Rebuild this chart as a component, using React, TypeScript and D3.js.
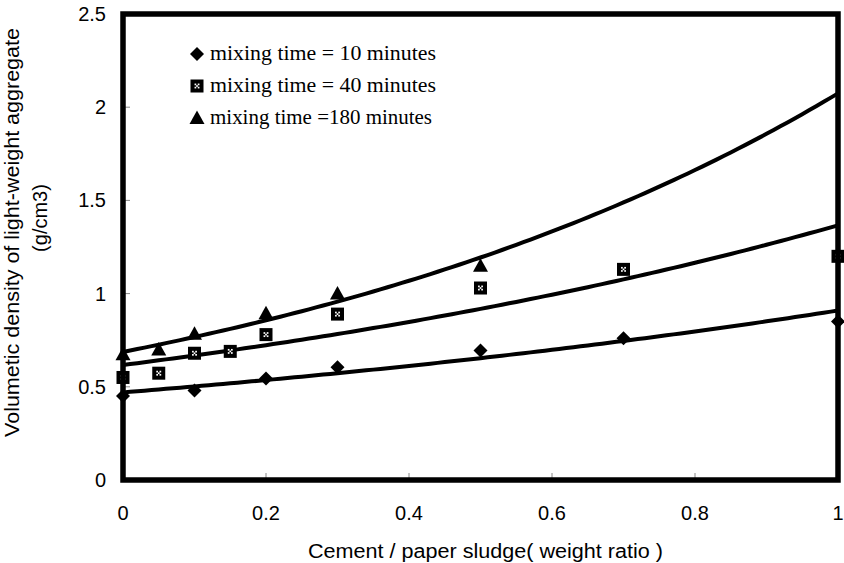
import React from "react";
import * as d3 from "d3";

const xTicks = [0, 0.2, 0.4, 0.6, 0.8, 1];
const yTicks = [0, 0.5, 1, 1.5, 2, 2.5];

const x10 = [0, 0.1, 0.2, 0.3, 0.5, 0.7, 1];
const y10 = [0.45, 0.48, 0.545, 0.605, 0.695, 0.76, 0.85];
const x40 = [0, 0.05, 0.1, 0.15, 0.2, 0.3, 0.5, 0.7, 1];
const y40 = [0.55, 0.573, 0.68, 0.69, 0.78, 0.89, 1.03, 1.13, 1.2];
const x180 = [0, 0.05, 0.1, 0.2, 0.3, 0.5];
const y180 = [0.675, 0.7, 0.785, 0.895, 1.0, 1.15];

// exponential trendline coefficients y = a * exp(b x)
const fitA = [0.47, 0.617, 0.687];
const fitB = [0.66, 0.795, 1.105];

const legendLabels = [
  "mixing time = 10 minutes",
  "mixing time = 40 minutes",
  "mixing time =180 minutes",
];

const W = 844, H = 563;
const L = 123, R = 838, T = 14, B = 480;

const xs = d3.scaleLinear().domain([0, 1]).range([L, R]);
const ys = d3.scaleLinear().domain([0, 2.5]).range([B, T]);

function Diamond({ cx, cy }: { cx: number; cy: number }) {
  const s = 7;
  return <path d={`M${cx},${cy - s}L${cx + s},${cy}L${cx},${cy + s}L${cx - s},${cy}Z`} fill="#000" />;
}
function Square({ cx, cy }: { cx: number; cy: number }) {
  const s = 6.5;
  const dots = [[-1.6, -1.6], [1.6, -1.6], [-1.6, 1.6], [1.6, 1.6], [0, 0]];
  return (
    <g>
      <rect x={cx - s} y={cy - s} width={2 * s} height={2 * s} fill="#000" />
      {dots.map((d, i) => (
        <rect key={i} x={cx + d[0] - 0.85} y={cy + d[1] - 0.85} width={1.7} height={1.7} fill="#fff" />
      ))}
    </g>
  );
}
function Tri({ cx, cy }: { cx: number; cy: number }) {
  const s = 7.5;
  return <path d={`M${cx},${cy - s}L${cx + s},${cy + s * 0.8}L${cx - s},${cy + s * 0.8}Z`} fill="#000" />;
}

export default function App() {
  const samples = d3.range(0, 1.0001, 0.01);
  const line = d3
    .line<number[]>()
    .x((d) => xs(d[0]))
    .y((d) => ys(d[1]));
  const curves = fitA.map((a, i) => line(samples.map((t) => [t, a * Math.exp(fitB[i] * t)])) as string);

  const sans = "'Liberation Sans', Arial, sans-serif";
  const serif = "'Liberation Serif', 'Times New Roman', serif";

  return (
    <svg width={W} height={H} style={{ position: "absolute", left: 0, top: 0, background: "#fff" }}>
      <rect width={W} height={H} fill="#fff" />
      {/* ticks */}
      {yTicks.map((v) => (
        <g key={"y" + v}>
          <line x1={L} x2={L + 7} y1={ys(v)} y2={ys(v)} stroke="#888" strokeWidth={1} />
          <text x={106} y={ys(v) + 7} textAnchor="end" fontFamily={sans} fontSize={20}>
            {v}
          </text>
        </g>
      ))}
      {xTicks.map((v) => (
        <g key={"x" + v}>
          <line x1={xs(v)} x2={xs(v)} y1={B} y2={B - 7} stroke="#888" strokeWidth={1} />
          <text x={xs(v)} y={520} textAnchor="middle" fontFamily={sans} fontSize={20}>
            {v}
          </text>
        </g>
      ))}
      {/* curves */}
      {curves.map((d, i) => (
        <path key={i} d={d} fill="none" stroke="#000" strokeWidth={4} />
      ))}
      {/* points */}
      {x10.map((v, i) => (
        <Diamond key={"d" + i} cx={xs(v)} cy={ys(y10[i])} />
      ))}
      {x40.map((v, i) => (
        <Square key={"s" + i} cx={xs(v)} cy={ys(y40[i])} />
      ))}
      {x180.map((v, i) => (
        <Tri key={"t" + i} cx={xs(v)} cy={ys(y180[i])} />
      ))}
      {/* frame */}
      <rect x={L} y={T} width={R - L} height={B - T} fill="none" stroke="#000" strokeWidth={5.5} />
      {/* legend */}
      {legendLabels.map((lab, i) => {
        const cy = 54 + i * 32;
        return (
          <g key={"l" + i}>
            {i === 0 && <Diamond cx={197} cy={cy} />}
            {i === 1 && <Square cx={197} cy={cy} />}
            {i === 2 && <Tri cx={197} cy={cy} />}
            <text
              x={210}
              y={cy + 6}
              fontFamily={serif}
              fontSize={20}
              textLength={i === 2 ? 222 : 226}
              lengthAdjust="spacingAndGlyphs"
            >
              {lab}
            </text>
          </g>
        );
      })}
      {/* axis titles */}
      <text
        x={308}
        y={558}
        fontFamily={sans}
        fontSize={20}
        textLength={355}
        lengthAdjust="spacingAndGlyphs"
      >
        Cement / paper sludge( weight ratio )
      </text>
      <g transform={`translate(19,437) rotate(-90)`}>
        <text x={0} y={0} fontFamily={sans} fontSize={20} textLength={409} lengthAdjust="spacingAndGlyphs">
          Volumetic density of light-weight aggregate
        </text>
      </g>
      <g transform={`translate(47,218) rotate(-90)`}>
        <text x={0} y={0} textAnchor="middle" fontFamily={sans} fontSize={20}>
          (g/cm3)
        </text>
      </g>
    </svg>
  );
}
